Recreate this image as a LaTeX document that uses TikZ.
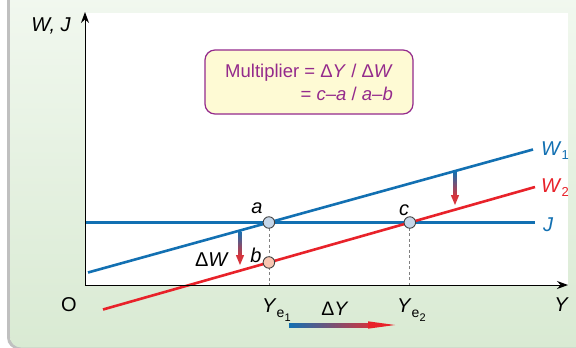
\documentclass[tikz,border=0pt]{standalone}
\usepackage{fontspec}
\setmainfont{Liberation Sans}
\usetikzlibrary{arrows.meta}
\definecolor{lblue}{RGB}{18,112,178}
\definecolor{lred}{RGB}{232,34,42}
\definecolor{mpurple}{RGB}{148,42,140}
\definecolor{mfill}{RGB}{254,250,212}
\definecolor{gtop}{RGB}{243,249,241}
\definecolor{gbot}{RGB}{217,234,211}
\definecolor{bgray}{RGB}{192,192,192}
\definecolor{ptblue}{RGB}{198,214,232}
\definecolor{ptred}{RGB}{248,198,178}
\definecolor{arred}{RGB}{214,52,60}
\tikzset{
  lbl/.style={inner sep=0pt, font=\fontsize{20}{22}\selectfont},
  curve/.style={line width=2.6pt},
  guide/.style={gray, line width=0.8pt, dash pattern=on 3pt off 2.5pt},
  pt/.style={circle, draw=black!75, line width=0.9pt, minimum size=11.5pt, inner sep=0pt},
  axis/.style={line width=1pt, -{Stealth[length=11pt,width=8pt]}},
}
\begin{document}
\begin{tikzpicture}[x=1pt,y=-1pt]
\useasboundingbox (0,0) rectangle (576,348);
% panel
\fill[bgray, rounded corners=12pt] (7,-30) -- (7,349.5) -- (620,349.5) -- (620,-30) -- cycle;
\shade[top color=gtop, bottom color=gbot, rounded corners=11pt] (10,-30) -- (10,347.5) -- (620,347.5) -- (620,-30) -- cycle;
\fill[white] (85,13) rectangle (568,285);
% coordinates
\coordinate (O) at (85,285);
\coordinate (ytop) at (85,12);
\coordinate (xend) at (568,285);
\coordinate (W1s) at (88,272.5);
\coordinate (W1e) at (533,149.5);
\coordinate (W2s) at (103,309.5);
\coordinate (W2e) at (535,187);
\coordinate (Js) at (86,222.5);
\coordinate (Je) at (535,222.5);
\coordinate (a) at (intersection of W1s--W1e and Js--Je);
\coordinate (a0) at (a |- O);
\coordinate (b) at (intersection of W2s--W2e and a--a0);
\coordinate (c) at (intersection of W2s--W2e and Js--Je);
\coordinate (c0) at (c |- O);
% guides
\draw[guide] (a) -- (a0);
\draw[guide] (c) -- (c0);
% curves
\draw[curve, lblue] (Js) -- (Je);
\draw[curve, lblue] (W1s) -- (W1e);
\draw[curve, lred] (W2s) -- (W2e);
% axes
\draw[axis] (O) -- (ytop);
\draw[axis] (O) -- (xend);
% shift arrows
\shade[top color=lblue, bottom color=arred] (238.6,231) rectangle (241.4,256);
\fill[arred] (235.8,255) -- (244.2,255) -- (240,265) -- cycle;
\shade[top color=lblue, bottom color=arred] (453.6,171.5) rectangle (456.4,196);
\fill[arred] (450.8,195) -- (459.2,195) -- (455,205) -- cycle;
% Delta Y arrow
\shade[left color=lblue, right color=arred] (289,323) rectangle (372,327);
\fill[lred] (368,321.3) -- (395,325) -- (368,328.7) -- cycle;
% points
\node[pt, fill=ptblue] (pa) at (a) {};
\node[pt, fill=ptred] (pb) at (b) {};
\node[pt, fill=ptblue] (pc) at (c) {};
% labels
\node[lbl] (lwj) at (51,26) {\itshape W, J};
\node[lbl] (lO) at (69,305) {O};
\node[lbl] (lY) at (561,305) {\itshape Y};
\node[lbl] (la) at (257,208) {\itshape a};
\node[lbl] (lb) at (256,255) {\itshape b};
\node[lbl] (lc) at (404,210) {\itshape c};
\node[lbl] (ldw) at (212,260) {Δ\textit{W}};
\node[lbl, lblue, anchor=base west] (lw1) at (541,155) {\textit{W}\raisebox{-4pt}{\fontsize{13}{13}\selectfont 1}};
\node[lbl, lred, anchor=base west] (lw2) at (541,192) {\textit{W}\raisebox{-4pt}{\fontsize{13}{13}\selectfont 2}};
\node[lbl, lblue] (lj) at (548,225) {\itshape J};
\node[lbl, anchor=base west] (ye1) at (262,312) {\textit{Y}\raisebox{-5pt}{\fontsize{14}{14}\selectfont e}\raisebox{-9pt}{\fontsize{11}{11}\selectfont 1}};
\node[lbl, anchor=base west] (ye2) at (397,312) {\textit{Y}\raisebox{-5pt}{\fontsize{14}{14}\selectfont e}\raisebox{-9pt}{\fontsize{11}{11}\selectfont 2}};
\node[inner sep=0pt, font=\fontsize{19.5}{21}\selectfont] (ldy) at (335,309) {Δ\textit{Y}};
% multiplier box
\node[draw=mpurple, fill=mfill, line width=1.2pt, rounded corners=10pt, minimum width=208pt, minimum height=64pt, text=mpurple, align=right, font=\fontsize{18.5}{23}\selectfont] (mult) at (309,82) {Multiplier = Δ\textit{Y} / Δ\textit{W}\\= \textit{c}–\textit{a} / \textit{a}–\textit{b}};
\end{tikzpicture}
\end{document}
